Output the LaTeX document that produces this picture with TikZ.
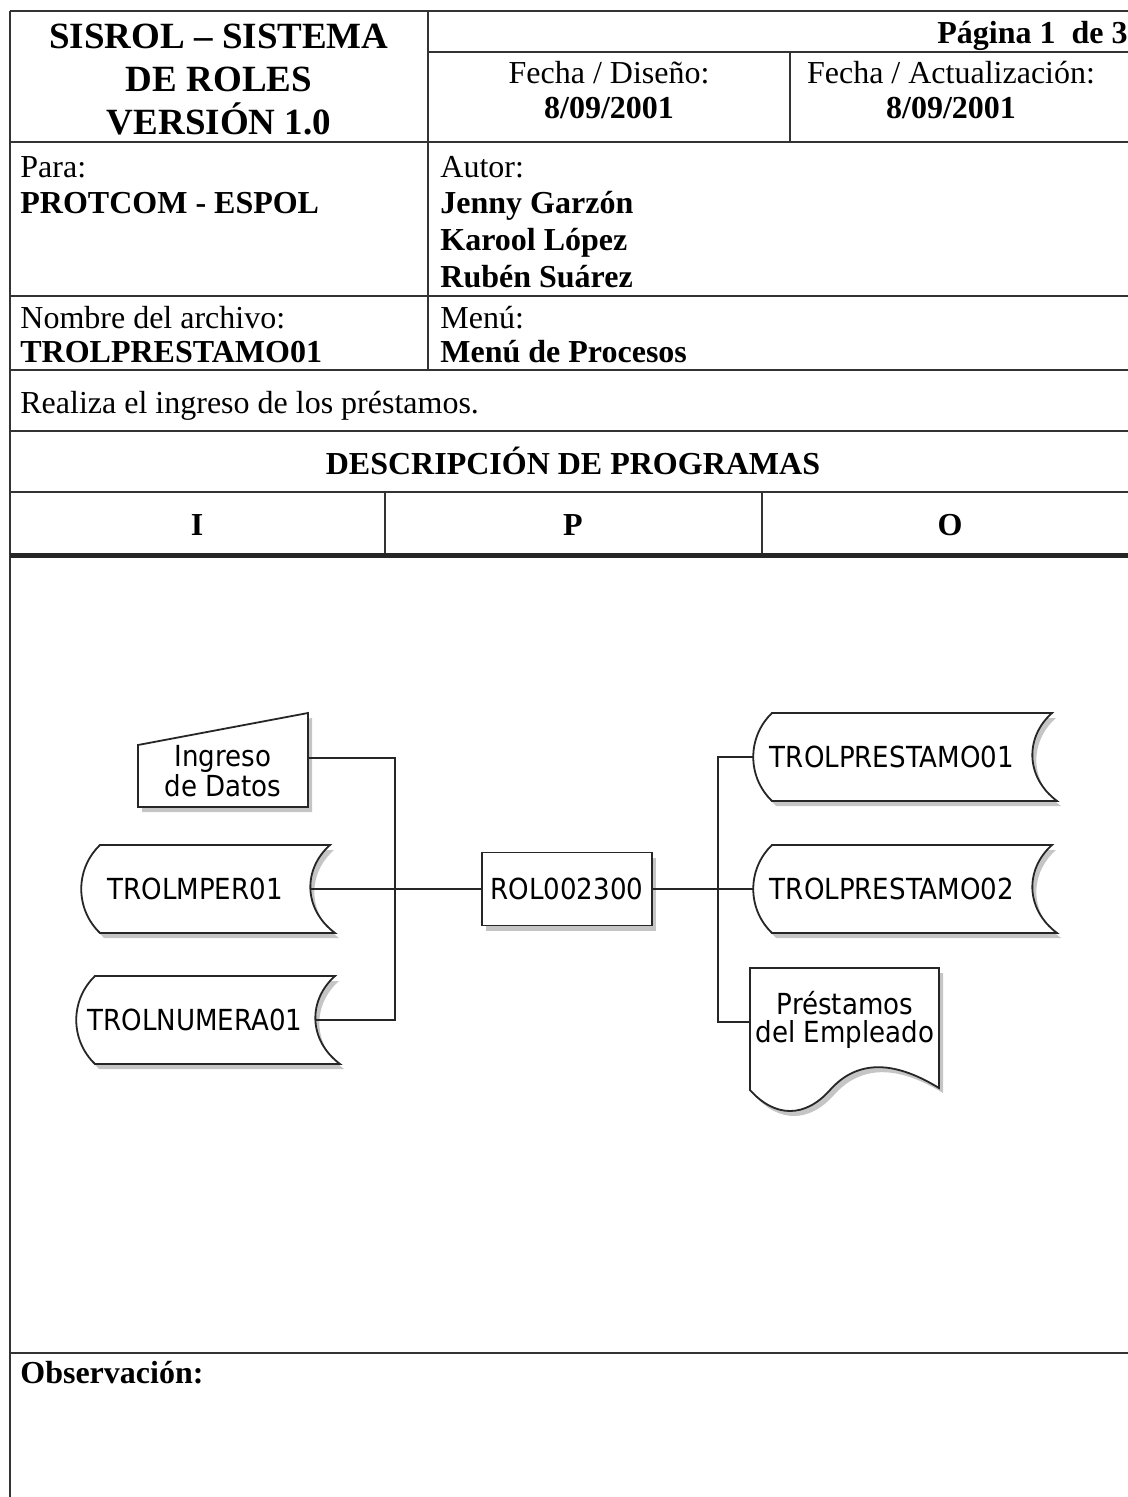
\documentclass[tikz,border=0pt]{standalone}
\usepackage{fontspec}
\setmainfont{Liberation Serif}
\newfontfamily\diafont[FakeStretch=0.9]{DejaVu Sans}
\usetikzlibrary{positioning,shadows}

\begin{document}
\begin{tikzpicture}[x=0.5pt, y=-0.5pt,% one unit = one pixel of the sheet
   rule/.style = {line width=1pt, black!80},
   thickrule/.style = {line width=2.5pt, black!85},
   txt/.style = {inner sep=0pt, anchor=base west, font=\fontsize{16}{18.5}\selectfont},
   boldtxt/.style = {txt, font=\fontsize{16}{18.5}\selectfont\bfseries},
   head/.style = {inner sep=0pt, anchor=base, font=\fontsize{16}{18.5}\selectfont\bfseries},
   sheettitle/.style = {inner sep=0pt, anchor=base, font=\fontsize{18.5}{21.5}\selectfont\bfseries},
   outline/.style = {draw=black!85, line width=0.9pt, fill=white,
                     drop shadow={shadow xshift=2pt, shadow yshift=-2.5pt, opacity=0.45}},
   dtext/.style = {inner sep=0pt, align=center, font=\diafont\fontsize{14.5}{14}\selectfont},
   wire/.style = {line width=0.9pt, black!85},
   pics/datafile/.style n args={2}{code={% stored data symbol
      \draw[outline] (-#1,-44) -- (#1,-44) .. controls (#1-27,-20) and (#1-27,20) .. (#1+5,44)
                     -- (-#1,44) .. controls (-#1-25,20) and (-#1-25,-20) .. cycle;
      \node[dtext] (-name) at (-20,0) {#2};
      \coordinate (-in) at (-#1-19,0);
      \coordinate (-out) at (#1-20,0);
   }}
                        ]
\fill[white] (0,0) rectangle (1128,1497);
\useasboundingbox (0,0) rectangle (1128,1497);

% form grid
\draw[rule] (10,11) -- (1128,11);
\draw[rule] (10,11) -- (10,1497);
\draw[rule] (428,11) -- (428,370);
\draw[rule] (428,52) -- (1128,52);
\draw[rule] (790,52) -- (790,142);
\foreach \y in {142,296,370,431,492}
   \draw[rule] (10,\y) -- (1128,\y);
\draw[rule] (385,492) -- (385,555);
\draw[rule] (762,492) -- (762,555);
\draw[thickrule] (10,555) -- (1128,555);
\draw[rule] (10,1353) -- (1128,1353);

% header
\node[sheettitle] (t1) at (219,49) {SISROL -- SISTEMA};
\node[sheettitle] (t2) at (219,92) {DE ROLES};
\node[sheettitle] (t3) at (219,135) {VERSIÓN 1.0};
\node[boldtxt] (pag) at (937,44) {Página 1\ \ de 3};
\node[inner sep=0pt, anchor=base, font=\fontsize{16}{18.5}\selectfont] (fd) at (609,84) {Fecha / Diseño:};
\node[head] (fdv) at (609,119) {8/09/2001};
\node[inner sep=0pt, anchor=base, font=\fontsize{16}{18.5}\selectfont] (fa) at (951,84) {Fecha / Actualización:};
\node[head] (fav) at (951,119) {8/09/2001};

% who and where
\node[txt] (para) at (20,178) {Para:};
\node[boldtxt] (parav) at (20,214) {PROTCOM - ESPOL};
\node[txt] (autor) at (440,178) {Autor:};
\node[boldtxt] (a1) at (440,214) {Jenny Garzón};
\node[boldtxt] (a2) at (440,251) {Karool López};
\node[boldtxt] (a3) at (440,288) {Rubén Suárez};
\node[txt] (arch) at (20,329) {Nombre del archivo:};
\node[boldtxt] (archv) at (20,363) {TROLPRESTAMO01};
\node[txt] (menu) at (440,329) {Menú:};
\node[boldtxt] (menuv) at (440,363) {Menú de Procesos};
\node[txt] (desc) at (20,414) {Realiza el ingreso de los préstamos.};
\node[head] (dp) at (573,474) {DESCRIPCIÓN DE PROGRAMAS};
\node[head] (colI) at (197,535) {I};
\node[head] (colP) at (573,535) {P};
\node[head] (colO) at (950,535) {O};
\node[boldtxt] (obs) at (20,1383) {Observación:};

% inputs
\draw[outline] (138,745) -- (308,713) -- (308,807) -- (138,807) -- cycle;
\node[dtext] (ing) at (223,771) {Ingreso\\de Datos};
\coordinate (ing-out) at (308,758);
\pic (mper) at (215,889) {datafile={115}{TROLMPER01}};
\pic (numera) at (215,1020) {datafile={120}{TROLNUMERA01}};

% process
\node[outline, dtext, minimum width=85pt, minimum height=36.5pt] (rol) at (567,889) {ROL002300};

% outputs
\pic (pres1) at (912,757) {datafile={140}{TROLPRESTAMO01}};
\pic (pres2) at (912,889) {datafile={140}{TROLPRESTAMO02}};
\draw[outline] (750,968) -- (939,968) -- (939,1088)
   .. controls (890,1058) and (855,1062) .. (830,1090)
   .. controls (805,1118) and (775,1118) .. (750,1090) -- cycle;
\node[dtext] (emp) at (845,1020) {Préstamos\\del Empleado};
\coordinate (emp-in) at (750,1022);

% connectors
\coordinate (lbus) at (395,889);
\coordinate (rbus) at (718,889);
\draw[wire] (ing-out) -| (lbus) |- (numera-out);
\draw[wire] (mper-out) -- (rol);
\draw[wire] (rol) -- (pres2-in);
\draw[wire] (pres1-in) -| (rbus) |- (emp-in);
\end{tikzpicture}
\end{document}
